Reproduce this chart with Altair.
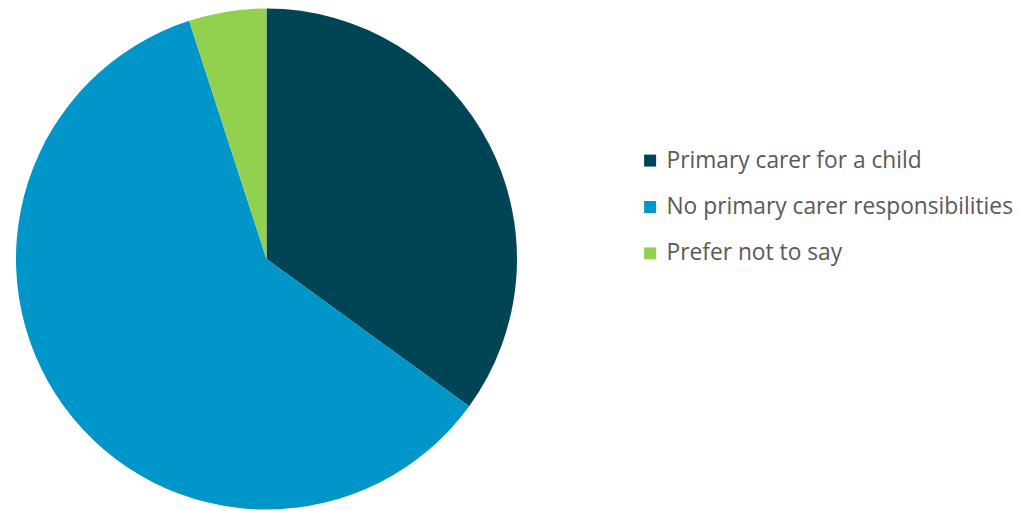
import altair as alt
import pandas as pd

categories = ["Primary carer for a child", "No primary carer responsibilities", "Prefer not to say"]
values = [35, 60, 5]
colors = ["#004456", "#0096C9", "#92D050"]

df = pd.DataFrame({"category": categories, "value": values, "order": [0, 1, 2]})

pie = alt.Chart(df).mark_arc(stroke=None).encode(
    theta=alt.Theta("value:Q", stack=True),
    order=alt.Order("order:Q"),
    color=alt.Color(
        "category:N",
        scale=alt.Scale(domain=categories, range=colors),
        sort=categories,
        legend=alt.Legend(
            title=None,
            orient="none",
            legendX=632,
            legendY=141,
            symbolType="square",
            symbolSize=144,
            symbolStrokeWidth=0,
            labelFont="Open Sans",
            labelFontSize=22.8,
            labelColor="#595959",
            labelLimit=500,
            rowPadding=22.5,
            symbolOffset=0,
            labelOffset=5,
        ),
    ),
    x=alt.value(259),
    y=alt.value(251),
    radius=alt.value(251),
)

chart = pie.properties(width=1000, height=500, padding=0).configure_view(stroke=None)

chart.save("out.html", embed_options={"renderer": "svg", "actions": False})
